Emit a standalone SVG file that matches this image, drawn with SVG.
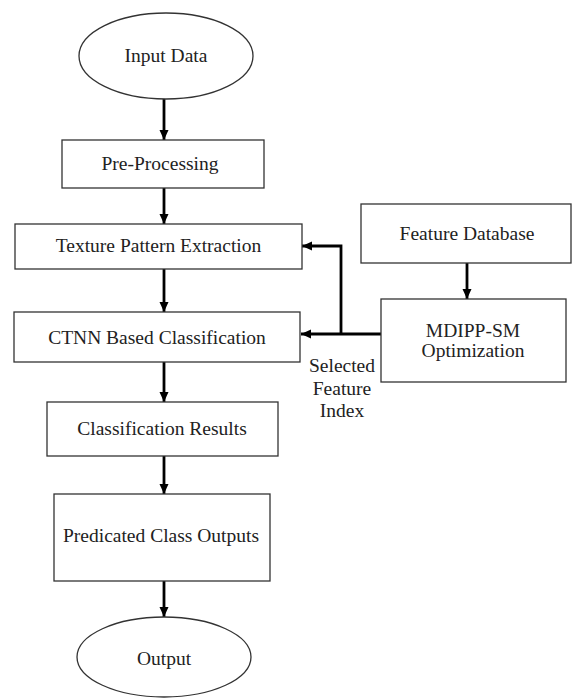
<svg xmlns="http://www.w3.org/2000/svg" width="572" height="698" viewBox="0 0 572 698">
<style>
.n{fill:#fff;stroke:#333;stroke-width:1.3}
.t{font-family:"Liberation Serif","Times New Roman",serif;font-size:19.5px;fill:#222;text-anchor:middle}
.c{fill:none;stroke:#000;stroke-width:2.8}
</style>
<defs>
<marker id="ah" markerUnits="userSpaceOnUse" markerWidth="12" markerHeight="12" refX="10" refY="5" orient="auto">
<path d="M0,0.5 L10,5 L0,9.5 z" fill="#000"/>
</marker>
</defs>
<rect width="572" height="698" fill="#fff"/>
<g id="connectors">
<path class="c" d="M164,99 V140" marker-end="url(#ah)"/>
<path class="c" d="M164,188 V224" marker-end="url(#ah)"/>
<path class="c" d="M164,269 V312" marker-end="url(#ah)"/>
<path class="c" d="M164,362 V402" marker-end="url(#ah)"/>
<path class="c" d="M164,456 V494" marker-end="url(#ah)"/>
<path class="c" d="M164,581 V617" marker-end="url(#ah)"/>
<path class="c" d="M467,263 V299" marker-end="url(#ah)"/>
<path class="c" d="M381,334 H301" marker-end="url(#ah)"/>
<path class="c" d="M341,334 V246 H302" marker-end="url(#ah)"/>
</g>
<g id="input">
<ellipse class="n" cx="166" cy="56" rx="87" ry="43"/>
<text class="t" x="166" y="62">Input Data</text>
</g>
<g id="preprocessing">
<rect class="n" x="62" y="140" width="202" height="48"/>
<text class="t" x="160" y="170">Pre-Processing</text>
</g>
<g id="texture">
<rect class="n" x="15" y="224" width="287" height="45"/>
<text class="t" x="158.5" y="252">Texture Pattern Extraction</text>
</g>
<g id="ctnn">
<rect class="n" x="14" y="312" width="286" height="50"/>
<text class="t" x="157" y="344">CTNN Based Classification</text>
</g>
<g id="results">
<rect class="n" x="47" y="402" width="231" height="54"/>
<text class="t" x="162" y="435">Classification Results</text>
</g>
<g id="predicated">
<rect class="n" x="54" y="494" width="216" height="87"/>
<text class="t" x="161" y="542">Predicated Class Outputs</text>
</g>
<g id="output">
<ellipse class="n" cx="164" cy="657" rx="87" ry="40"/>
<text class="t" x="164" y="665">Output</text>
</g>
<g id="featuredb">
<rect class="n" x="361" y="204" width="210" height="59"/>
<text class="t" x="467" y="240">Feature Database</text>
</g>
<g id="mdipp">
<rect class="n" x="381" y="299" width="185" height="83"/>
<text class="t" x="473" y="337">MDIPP-SM</text>
<text class="t" x="473" y="357">Optimization</text>
</g>
<g id="label">
<text class="t" x="342" y="372">Selected</text>
<text class="t" x="342" y="394.5">Feature</text>
<text class="t" x="342" y="417">Index</text>
</g>
</svg>
